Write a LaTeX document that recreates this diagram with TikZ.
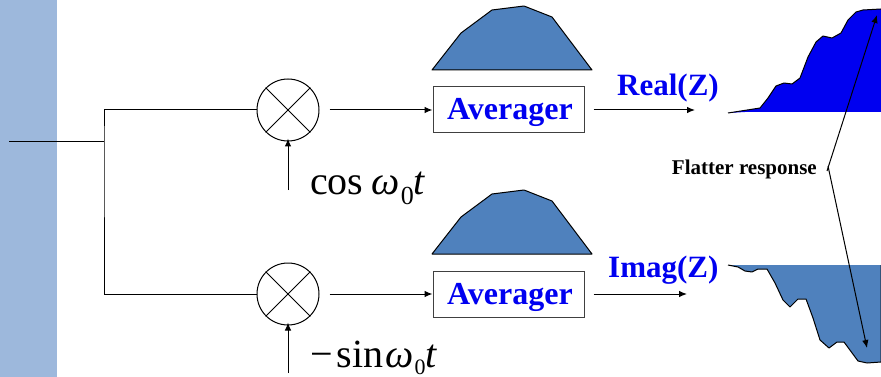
\documentclass[tikz,border=0pt]{standalone}
\usepackage{xcolor}
\usepackage{fontspec}
\setmainfont{Liberation Serif}
\usetikzlibrary{positioning,arrows.meta,calc}
\definecolor{uBand}{HTML}{9DB8DC}
\definecolor{uHump}{HTML}{4F81BD}
\definecolor{uReal}{HTML}{0000F0}
\tikzset{
  wire/.style={line width=1pt},
  flow/.style={wire, -{Latex[length=8pt,width=6.5pt]}},
  mixer/.style={draw, circle, line width=1pt, minimum size=62pt, inner sep=0pt},
  avgbox/.style={draw=black!75, line width=1pt, minimum width=151pt, minimum height=46pt,
                 inner sep=0pt, text height=20pt, text depth=0pt, text=uReal,
                 font=\bfseries\fontsize{32}{32}\selectfont},
  hump/.style={draw, fill=uHump, line width=1pt, line join=round},
  outlbl/.style={text=uReal, font=\bfseries\fontsize{31}{31}\selectfont, anchor=base west, inner sep=0pt},
  carrier/.style={font=\fontsize{40}{40}\selectfont, anchor=base west, inner sep=0pt},
  note/.style={font=\bfseries\fontsize{21}{21}\selectfont, inner sep=0pt},
}
\newcommand{\wzt}[2]{{\itshape ω}\hspace{1pt}\raisebox{#1}{\fontsize{#2}{#2}\selectfont 0}{\itshape t}}

\begin{document}
\begin{tikzpicture}[x=1pt,y=-1pt]
\useasboundingbox (0,0) rectangle (881,377);
\fill[uBand] (0,0) rectangle (57,377);

%% ── mixers and averagers on fixed coordinates ─────────────────────────────
\node[mixer] (mix1) at (288,110) {};
\node[mixer] (mix2) at (288,294) {};
\draw[wire] (mix1.45) -- (mix1.225) (mix1.135) -- (mix1.315);
\draw[wire] (mix2.45) -- (mix2.225) (mix2.135) -- (mix2.315);

\node[avgbox] (avg1) at (508.5,110) {\hspace{3pt}Averager};
\node[avgbox] (avg2) at (508.5,294) {\hspace{3pt}Averager};

\draw[hump] (432,70) -- (461,33) -- (492,10) -- (524,6) -- (552,17) -- (592,70) -- cycle;
\draw[hump] (432,254) -- (461,217) -- (492,194) -- (524,190) -- (552,201) -- (592,254) -- cycle;

%% ── input wiring ──────────────────────────────────────────────────────────
\coordinate (in) at (9,142);
\coordinate (split) at (104,142);
\draw[wire] (in) -- (split);
\draw[wire] (mix1.west) -| (split) |- (mix2.west);

\coordinate (lo1) at (288,190);
\coordinate (lo2) at (288,373);
\draw[flow] (lo1) -- ([yshift=3pt]mix1.south);
\draw[flow] (lo2) -- ([yshift=3pt]mix2.south);
\node[carrier] (cos) at (310,194) {cos\hspace{8pt}\wzt{-10pt}{26}};
\node[carrier] (sin) at (310,367) {−\hspace{4pt}sin\hspace{2pt}\wzt{-7pt}{22}};

%% ── outputs ───────────────────────────────────────────────────────────────
\draw[flow] ([xshift=10pt]mix1.east) -- (avg1.west);
\draw[flow] ([xshift=10pt]mix2.east) -- (avg2.west);
\coordinate (out1) at (695,110);
\coordinate (out2) at (687,294);
\draw[flow] ([xshift=9pt]avg1.east) -- (out1);
\draw[flow] ([xshift=9pt]avg2.east) -- (out2);
\node[outlbl] (real) at (617,96) {Real(Z)};
\node[outlbl] (imag) at (608,277) {Imag(Z)};

%% ── responses ─────────────────────────────────────────────────────────────
\fill[uReal] (728,113) -- (760,108) -- (768,98) -- (776,86) -- (784,83) -- (792,84)
  -- (800,78) -- (808,57) -- (816,42) -- (823,36) -- (832,38) -- (841,33) -- (848,20)
  -- (856,12) -- (863,10) -- (881,9) -- (881,112) -- (745,112) -- cycle;
\draw[wire, line join=round] (728,113) -- (760,108) -- (768,98) -- (776,86) -- (784,83) -- (792,84)
  -- (800,78) -- (808,57) -- (816,42) -- (823,36) -- (832,38) -- (841,33) -- (848,20)
  -- (856,12) -- (863,10) -- (881,9);

\fill[uHump] (728,265) -- (881,265) -- (881,362) -- (867,363) -- (858,361) -- (844,342)
  -- (837,342) -- (829,348) -- (820,340) -- (813,318) -- (806,299) -- (798,299)
  -- (790,307) -- (783,300) -- (775,283) -- (767,269) -- (758,269) -- (752,272)
  -- (745,271) -- (738,267) -- cycle;
\draw[wire, line join=round] (728,265) -- (738,267) -- (745,271) -- (752,272) -- (758,269)
  -- (767,269) -- (775,283) -- (783,300) -- (790,307) -- (798,299) -- (806,299)
  -- (813,318) -- (820,340) -- (829,348) -- (837,342) -- (844,342) -- (858,361)
  -- (867,363) -- (881,362) -- (881,265);

\node[note, anchor=east] (flat) at (817,169) {Flatter response};
\coordinate (tip1) at (877,15);
\coordinate (tip2) at (867,348);
\draw[flow] ([xshift=10pt,yshift=-2pt]flat.east) -- (tip1);
\draw[flow] ([xshift=11pt,yshift=3pt]flat.east) -- (tip2);

\end{tikzpicture}
\end{document}
